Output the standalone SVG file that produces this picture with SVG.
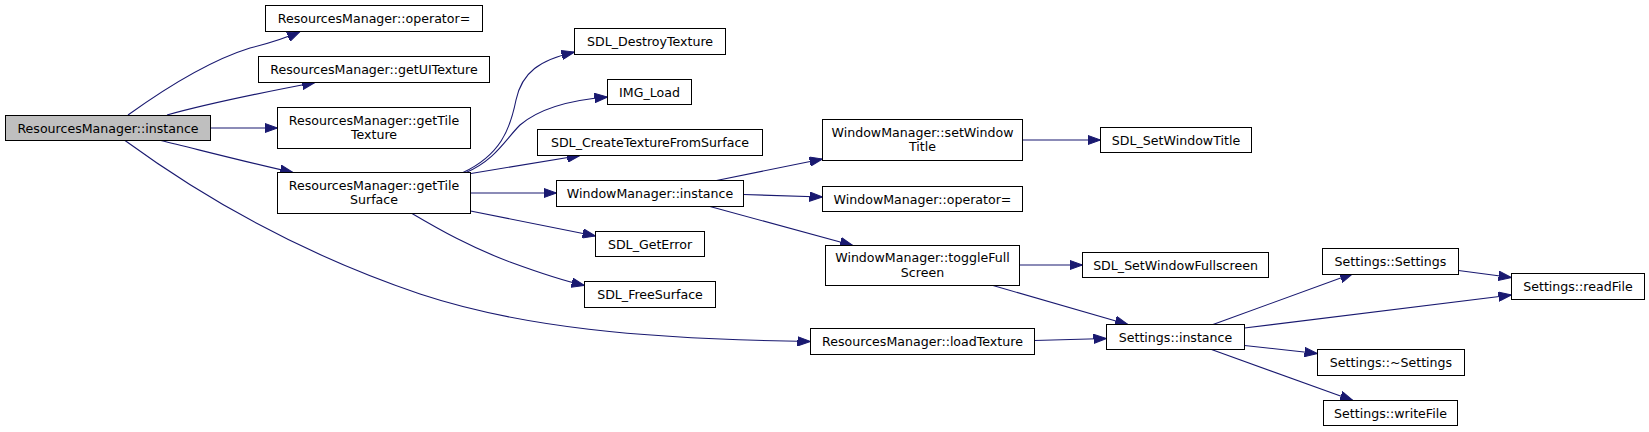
<svg xmlns="http://www.w3.org/2000/svg" width="1649" height="432" viewBox="0 0 1649 432">
<style>
.n rect{fill:#fff;stroke:#000;stroke-width:1}
.n.root rect{fill:#bfbfbf}
.n text{font-family:"DejaVu Sans","Liberation Sans",sans-serif;font-size:12.6px;fill:#000;text-anchor:middle}
.e path{fill:none;stroke:#191970;stroke-width:1.1;marker-end:url(#arr)}
</style>
<defs>
<marker id="arr" markerUnits="userSpaceOnUse" markerWidth="14" markerHeight="10" viewBox="0 0 14 10" refX="13" refY="5" orient="auto">
<path d="M0,0.3 L13,5 L0,9.7 Z" fill="#191970" stroke="#191970" stroke-width="1"/>
</marker>
</defs>
<rect width="1649" height="432" fill="#fff"/>
<g id="edges" class="e">
<path d="M128,115 C160,92 205,62 250,48 C266,44 286,38 300,31.5"/>
<path d="M167,115 C210,103 265,92 315,82.5"/>
<path d="M210.5,128 L277.5,128"/>
<path d="M161,140.5 C200,150 250,163 293,172.5"/>
<path d="M125,140.5 C190,188 290,250 420,294 C520,327 640,339 810.5,341.5"/>
<path d="M463,172.5 C500,155 510,130 516,100 C522,72 540,60 574.5,52"/>
<path d="M466,172.5 C495,160 505,140 520,125 C540,108 570,100 607.5,97"/>
<path d="M471,173.5 L580,155.5"/>
<path d="M470.5,193 L556.5,193"/>
<path d="M470.5,211 L595.5,236"/>
<path d="M412,213.5 C440,230 470,247 510,262 C540,273 560,280 584.5,285.5"/>
<path d="M716.5,180.5 L822.5,159"/>
<path d="M743.5,194.5 L822.5,197"/>
<path d="M710,206.5 L853,245.5"/>
<path d="M1022.5,140 L1100.5,140"/>
<path d="M1019.5,265 L1082.5,265"/>
<path d="M993,285.5 L1128,324.5"/>
<path d="M1034.5,340.5 L1106.5,338.5"/>
<path d="M1213,324.5 L1353,273.5"/>
<path d="M1244.5,328 L1511.5,295"/>
<path d="M1244.5,345.5 L1317.5,353.5"/>
<path d="M1211.5,349.5 L1353,400.5"/>
<path d="M1458.5,270.5 L1511.5,277.5"/>
</g>
<g id="rm_instance" class="n root"><rect x="5.5" y="115.5" width="205" height="25"/><text x="108" y="132.5">ResourcesManager::instance</text></g>
<g id="rm_operator_eq" class="n"><rect x="265.5" y="5.5" width="217" height="26"/><text x="374" y="23">ResourcesManager::operator=</text></g>
<g id="rm_getUITexture" class="n"><rect x="258.5" y="56.5" width="231" height="26"/><text x="374" y="74">ResourcesManager::getUITexture</text></g>
<g id="rm_getTileTexture" class="n"><rect x="277.5" y="107.5" width="193" height="41"/><text x="374" y="124.5">ResourcesManager::getTile</text><text x="374" y="139">Texture</text></g>
<g id="rm_getTileSurface" class="n"><rect x="277.5" y="172.5" width="193" height="41"/><text x="374" y="189.5">ResourcesManager::getTile</text><text x="374" y="204">Surface</text></g>
<g id="sdl_destroyTexture" class="n"><rect x="574.5" y="28.5" width="151" height="26"/><text x="650" y="46">SDL_DestroyTexture</text></g>
<g id="img_load" class="n"><rect x="607.5" y="79.5" width="84" height="25"/><text x="649.5" y="96.5">IMG_Load</text></g>
<g id="sdl_createTextureFromSurface" class="n"><rect x="537.5" y="129.5" width="225" height="26"/><text x="650" y="147">SDL_CreateTextureFromSurface</text></g>
<g id="wm_instance" class="n"><rect x="556.5" y="180.5" width="187" height="26"/><text x="650" y="198">WindowManager::instance</text></g>
<g id="sdl_getError" class="n"><rect x="595.5" y="231.5" width="109" height="25"/><text x="650" y="248.5">SDL_GetError</text></g>
<g id="sdl_freeSurface" class="n"><rect x="584.5" y="281.5" width="131" height="26"/><text x="650" y="299">SDL_FreeSurface</text></g>
<g id="wm_setWindowTitle" class="n"><rect x="822.5" y="119.5" width="200" height="41"/><text x="922.5" y="136.5">WindowManager::setWindow</text><text x="922.5" y="151">Title</text></g>
<g id="wm_operator_eq" class="n"><rect x="822.5" y="186.5" width="200" height="25"/><text x="922.5" y="203.5">WindowManager::operator=</text></g>
<g id="wm_toggleFullScreen" class="n"><rect x="825.5" y="245.5" width="194" height="40"/><text x="922.5" y="262">WindowManager::toggleFull</text><text x="922.5" y="276.5">Screen</text></g>
<g id="rm_loadTexture" class="n"><rect x="810.5" y="328.5" width="224" height="26"/><text x="922.5" y="346">ResourcesManager::loadTexture</text></g>
<g id="sdl_setWindowTitle" class="n"><rect x="1100.5" y="127.5" width="151" height="25"/><text x="1176" y="144.5">SDL_SetWindowTitle</text></g>
<g id="sdl_setWindowFullscreen" class="n"><rect x="1082.5" y="252.5" width="186" height="25"/><text x="1175.5" y="269.5">SDL_SetWindowFullscreen</text></g>
<g id="settings_instance" class="n"><rect x="1106.5" y="324.5" width="138" height="25"/><text x="1175.5" y="341.5">Settings::instance</text></g>
<g id="settings_ctor" class="n"><rect x="1322.5" y="248.5" width="136" height="26"/><text x="1390.5" y="266">Settings::Settings</text></g>
<g id="settings_dtor" class="n"><rect x="1317.5" y="349.5" width="147" height="26"/><text x="1391" y="367">Settings::~Settings</text></g>
<g id="settings_writeFile" class="n"><rect x="1323.5" y="400.5" width="134" height="25"/><text x="1390.5" y="417.5">Settings::writeFile</text></g>
<g id="settings_readFile" class="n"><rect x="1511.5" y="273.5" width="133" height="26"/><text x="1578" y="291">Settings::readFile</text></g>
</svg>
